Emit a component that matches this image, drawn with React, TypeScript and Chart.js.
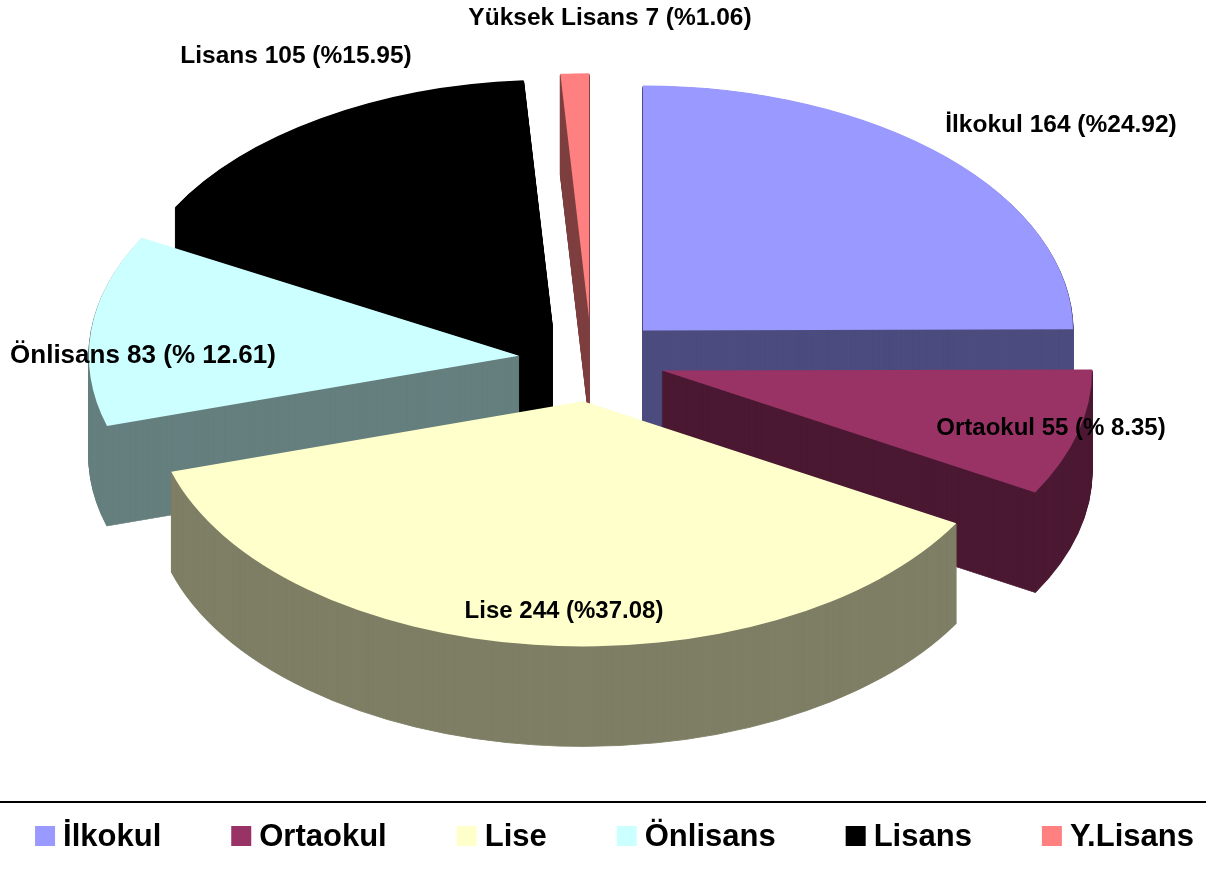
import React, { useEffect, useRef } from "react";
import { Chart, registerables } from "chart.js";

Chart.register(...registerables);

// ---- data ----
const CATEGORIES = ["İlkokul", "Ortaokul", "Lise", "Önlisans", "Lisans", "Y.Lisans"];
const COUNTS = [164, 55, 244, 83, 105, 7];
const DATA_LABELS = [
  "İlkokul 164 (%24.92)",
  "Ortaokul 55 (% 8.35)",
  "Lise 244 (%37.08)",
  "Önlisans 83 (% 12.61)",
  "Lisans 105 (%15.95)",
  "Yüksek Lisans 7 (%1.06)",
];

// ---- styles ----
const TOP_COLORS = ["#9999FF", "#993366", "#FFFFCC", "#CCFFFF", "#000000", "#FF8080"];
const SIDE_COLORS = ["#4C4C7F", "#4C1933", "#7F7F66", "#667F7F", "#000000", "#7F4040"];
const LABEL_POS: [number, number][] = [
  [1061, 132],
  [1051, 435],
  [564, 618],
  [143, 363],
  [296, 63],
  [610, 25],
];
const LABEL_SIZES = [24.5, 24, 24, 26, 24.5, 24.5];
const FONT = '"Liberation Sans", Arial, Helvetica, sans-serif';
const CENTER_X = 591.5;
const CENTER_Y = 360;
const TILT = 0.57;
const EXPLODE = 73;
const DEPTH = 100;
const RADIUS = 430;

const pie3d = {
  id: "pie3d",
  beforeDatasetsDraw(chart: any) {
    const ctx: CanvasRenderingContext2D = chart.ctx;
    const meta = chart.getDatasetMeta(0);
    const arcs: any[] = meta.data;
    if (!arcs.length) return false;
    const cx = arcs[0].x;
    const cy = arcs[0].y;
    const place = (arc: any, dy: number) => {
      const half = (arc.startAngle + arc.endAngle) / 2;
      ctx.translate(CENTER_X, CENTER_Y + dy);
      ctx.scale(1, TILT);
      ctx.translate(Math.cos(half) * EXPLODE, Math.sin(half) * EXPLODE);
      ctx.translate(-cx, -cy);
    };
    const order = arcs
      .map((a, i) => ({ i, s: Math.sin((a.startAngle + a.endAngle) / 2) }))
      .sort((a, b) => a.s - b.s)
      .map((o) => o.i);
    // side walls
    for (const i of order) {
      const arc = arcs[i];
      const o = arc.options;
      const saved = { bg: o.backgroundColor, bc: o.borderColor, bw: o.borderWidth };
      o.backgroundColor = SIDE_COLORS[i];
      o.borderColor = SIDE_COLORS[i];
      o.borderWidth = 1.2;
      for (let k = DEPTH; k >= 1; k--) {
        ctx.save();
        place(arc, k);
        arc.draw(ctx);
        ctx.restore();
      }
      o.backgroundColor = saved.bg;
      o.borderColor = saved.bc;
      o.borderWidth = saved.bw;
    }
    // top faces
    for (const i of order) {
      ctx.save();
      place(arcs[i], 0);
      arcs[i].draw(ctx);
      ctx.restore();
    }
    return false;
  },
  afterDraw(chart: any) {
    const ctx: CanvasRenderingContext2D = chart.ctx;
    ctx.save();
    // data labels
    ctx.fillStyle = "#000";
    ctx.textAlign = "center";
    ctx.textBaseline = "alphabetic";
    DATA_LABELS.forEach((t, i) => {
      ctx.font = `bold ${LABEL_SIZES[i]}px ${FONT}`;
      ctx.fillText(t, LABEL_POS[i][0], LABEL_POS[i][1]);
    });
    // legend separator line
    ctx.fillStyle = "#000";
    ctx.fillRect(0, 801, 1206, 2);
    // legend
    ctx.font = `bold 31px ${FONT}`;
    ctx.textAlign = "left";
    const box = 20;
    const boxGap = 8;
    const itemGap = 70;
    const widths = CATEGORIES.map((c) => box + boxGap + ctx.measureText(c).width);
    const total = widths.reduce((a, b) => a + b, 0) + itemGap * (CATEGORIES.length - 1);
    let x = 614.5 - total / 2;
    CATEGORIES.forEach((c, i) => {
      ctx.fillStyle = TOP_COLORS[i];
      ctx.fillRect(x, 826, box, box);
      ctx.fillStyle = "#000";
      ctx.fillText(c, x + box + boxGap, 846);
      x += widths[i] + itemGap;
    });
    ctx.restore();
  },
};

export default function App() {
  const ref = useRef<HTMLCanvasElement>(null);
  useEffect(() => {
    if (!ref.current) return;
    const chart = new Chart(ref.current, {
      type: "pie",
      data: {
        labels: CATEGORIES,
        datasets: [
          {
            data: COUNTS,
            backgroundColor: TOP_COLORS,
            borderWidth: 0,
            radius: RADIUS,
            offset: 0,
            clip: false as any,
          },
        ],
      },
      options: {
        responsive: false,
        animation: false,
        events: [],
        layout: { padding: 0 },
        plugins: {
          legend: { display: false },
          tooltip: { enabled: false },
        },
      },
      plugins: [pie3d],
    });
    return () => chart.destroy();
  }, []);
  return (
    <div style={{ position: "fixed", left: 0, top: 0, width: 1216, height: 870, background: "#fff" }}>
      <canvas ref={ref} width={1216} height={870} style={{ display: "block" }} />
    </div>
  );
}
